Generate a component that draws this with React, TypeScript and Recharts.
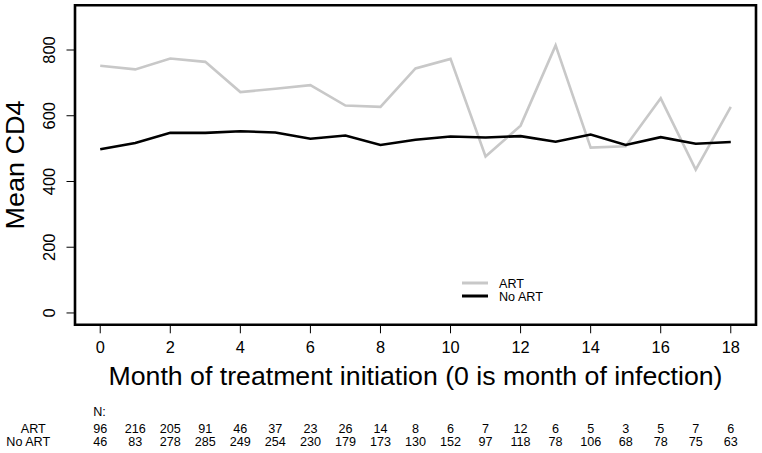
import React from "react";
import { LineChart, Line, XAxis, YAxis, ReferenceArea } from "recharts";

const months = [0, 1, 2, 3, 4, 5, 6, 7, 8, 9, 10, 11, 12, 13, 14, 15, 16, 17, 18];
const artMean = [752, 741, 774, 764, 672, 682, 693, 631, 627, 744, 773, 476, 570, 814, 503, 507, 653, 436, 627];
const noArtMean = [498, 517, 548, 548, 553, 549, 530, 540, 511, 527, 537, 534, 538, 521, 543, 511, 535, 515, 520];
const artN = [96, 216, 205, 91, 46, 37, 23, 26, 14, 8, 6, 7, 12, 6, 5, 3, 5, 7, 6];
const noArtN = [46, 83, 278, 285, 249, 254, 230, 179, 173, 130, 152, 97, 118, 78, 106, 68, 78, 75, 63];
const yTicks = [0, 200, 400, 600, 800];

const data = months.map((m, i) => ({ month: m, art: artMean[i], noArt: noArtMean[i] }));

const FONT = "'Liberation Sans', Arial, sans-serif";
const X_MIN = -0.72;
const X_MAX = 18.72;
const Y_MIN = -36;
const Y_MAX = 936;

const MonthTick = (props: any) => {
  const { x, y, payload } = props;
  const m = payload.value as number;
  const i = months.indexOf(m);
  const top = y - 10; // box bottom
  return (
    <g fontFamily={FONT} fill="#000">
      {m % 2 === 0 && (
        <>
          <line x1={x} x2={x} y1={top} y2={top + 8.5} stroke="#000" strokeWidth={1} />
          <text x={x} y={top + 28.5} textAnchor="middle" fontSize={16.4}>
            {m}
          </text>
        </>
      )}
      <text x={x} y={top + 107.8} textAnchor="middle" fontSize={12.6}>
        {artN[i]}
      </text>
      <text x={x} y={top + 121.2} textAnchor="middle" fontSize={12.6}>
        {noArtN[i]}
      </text>
      {i === 0 && (
        <>
          <text x={x - 7} y={top + 91.2} fontSize={12.6}>
            N:
          </text>
          <text x={x - 67} y={top + 107.8} textAnchor="middle" fontSize={12.6}>
            ART
          </text>
          <text x={x - 72} y={top + 121.2} textAnchor="middle" fontSize={12.6}>
            No ART
          </text>
        </>
      )}
    </g>
  );
};

const CountTick = (props: any) => {
  const { y, payload } = props;
  const cx = 49;
  return (
    <g>
      <line x1={66.5} x2={75} y1={y} y2={y} stroke="#000" strokeWidth={1} />
      <text
        x={cx}
        y={y}
        transform={`rotate(-90, ${cx}, ${y})`}
        textAnchor="middle"
        dominantBaseline="central"
        fontFamily={FONT}
        fontSize={16.4}
        fill="#000"
      >
        {payload.value}
      </text>
    </g>
  );
};

const XTitle = (props: any) => {
  const vb = props.viewBox || { x: 75, y: 324.5, width: 681 };
  return (
    <text
      x={vb.x + vb.width / 2}
      y={385}
      textAnchor="middle"
      fontFamily={FONT}
      fontSize={26}
      textLength={614}
      lengthAdjust="spacingAndGlyphs"
      fill="#000"
    >
      Month of treatment initiation (0 is month of infection)
    </text>
  );
};

const YTitle = () => (
  <text
    x={15}
    y={165}
    transform="rotate(-90, 15, 165)"
    textAnchor="middle"
    dominantBaseline="central"
    fontFamily={FONT}
    fontSize={26}
    textLength={129}
    lengthAdjust="spacingAndGlyphs"
    fill="#000"
  >
    Mean CD4
  </text>
);

const LegendBox = () => (
  <g fontFamily={FONT} fontSize={12.6} fill="#000">
    <line x1={462} x2={488} y1={283} y2={283} stroke="#c8c8c8" strokeWidth={3} />
    <line x1={462} x2={488} y1={296} y2={296} stroke="#000" strokeWidth={3} />
    <text x={499} y={287.5}>ART</text>
    <text x={499} y={300.5}>No ART</text>
  </g>
);

export default function App() {
  return (
    <div style={{ position: "absolute", left: 0, top: 0, background: "#fff" }}>
      <LineChart
        width={762}
        height={453}
        data={data}
        margin={{ top: 5.3, right: 6, left: 0, bottom: 0 }}
      >
        <XAxis
          dataKey="month"
          type="number"
          domain={[X_MIN, X_MAX]}
          ticks={months}
          interval={0}
          axisLine={false}
          tickLine={false}
          tickSize={0}
          tickMargin={10}
          height={128.2}
          tick={<MonthTick />}
          label={<XTitle />}
        />
        <YAxis
          type="number"
          domain={[Y_MIN, Y_MAX]}
          ticks={yTicks}
          interval={0}
          axisLine={false}
          tickLine={false}
          width={75}
          tick={<CountTick />}
          label={<YTitle />}
        />
        <ReferenceArea
          x1={X_MIN}
          x2={X_MAX}
          y1={Y_MIN}
          y2={Y_MAX}
          fill="none"
          fillOpacity={0}
          stroke="#000"
          strokeWidth={2.6}
          ifOverflow="visible"
        />
        <Line
          type="linear"
          dataKey="art"
          stroke="#c8c8c8"
          strokeWidth={2.6}
          dot={false}
          isAnimationActive={false}
        />
        <Line
          type="linear"
          dataKey="noArt"
          stroke="#000"
          strokeWidth={2.6}
          dot={false}
          isAnimationActive={false}
        />
        <LegendBox />
      </LineChart>
    </div>
  );
}
